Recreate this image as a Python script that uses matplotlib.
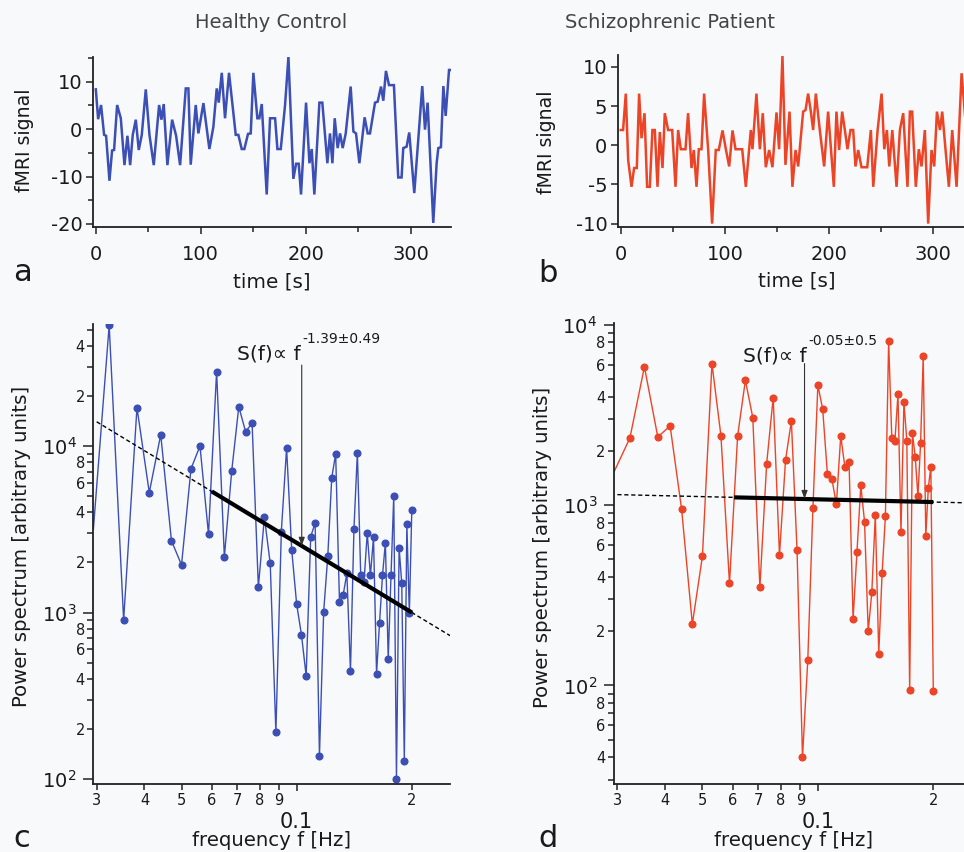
import matplotlib
matplotlib.use('Agg')
import matplotlib.pyplot as plt
import numpy as np
from matplotlib.ticker import FixedLocator, FixedFormatter, FuncFormatter

plt.rcParams['font.family'] = ['DejaVu Sans']
plt.rcParams['axes.unicode_minus'] = False

# ---------------- data ----------------
title_left = "Healthy Control"
title_right = "Schizophrenic Patient"

# healthy control time series (vertices), time [s] and fMRI signal
t_healthy = [0, 2.2, 5.0, 7.9, 9.8, 13, 15.5, 17.4, 20.3, 23.8, 27.3, 30.1, 32.7, 35.2, 38.1, 40.9,
             43.8, 47.6, 51.1, 55.2, 60.3, 62.5, 64.7, 68.2, 72.7, 76.5, 80.3, 85.7, 88.2, 90.4, 95.2,
             97.7, 102.5, 108.2, 112, 115.2, 117.1, 120, 123.1, 126.9, 133.3, 135.8, 139, 141.5, 145,
             147.6, 150.1, 153.9, 155.8, 158.1, 162.8, 166, 170.8, 173, 176.2, 180.3, 183.5, 188.2,
             190.8, 193.3, 195.5, 200.3, 203.5, 205.7, 208.2, 213, 215.8, 220.6, 223.1, 225.4, 227.6,
             230.4, 232.7, 235.2, 238.1, 242.8, 245.4, 247.9, 251.1, 256.1, 259, 261.2, 266, 268.5,
             271.7, 273.9, 276.4, 279.3, 284, 288.1, 291.3, 292.9, 296.1, 298.6, 303.4, 311, 313.6,
             316.1, 321.5, 324.7, 326.3, 328.8, 331.1, 333.3, 336.5, 338]
v_healthy = [8.4, 2.1, 5.1, -1.2, -1.4, -10.9, -4.5, -4.4, 5.1, 2.3, -7.6, -1.4, -7.6, -1.2, 2.0, -4.4,
             -1.2, 8.4, -1.2, -7.6, 5.1, 2.0, 5.3, -7.6, 2.0, -1.4, -7.6, 8.6, 8.6, -7.5, 5.1,
             -0.9, 5.5, -4.2, 0.5, 8.6, 5.6, 11.9, 2.3, 11.9, -1.2, -1.2, -4.2, -4.2, -1.0,
             -0.9, 11.9, 2.3, 2.3, 5.3, -13.8, 2.3, 2.3, -4.2, -4.2, 5.1, 15.3, -10.5,
             -7.3, -7.3, -13.8, 5.6, -7.2, -4.2, -13.8, 5.6, 5.6, -7.2, -0.9, -7.2, 2.3,
             -4.0, -0.9, -4.0, -0.9, 9.0, -0.5, -0.9, -7.2, 2.5, -0.9, -0.9, 5.6, 5.8,
             9.0, 6.0, 12.3, 9.3, 9.3, -10.2, -10.2, -4.0, -3.7, -0.7, -13.5, 9.1, -0.1,
             5.6, -19.8, -7.2, -4.0, -3.8, 9.1, 2.8, 12.5, 12.5]

# schizophrenic patient time series (vertices)
t_patient = [0, 2.2, 4.8, 7.1, 10.3, 12.8, 15.4, 17.6, 19.9, 22.8, 25.3, 27.9, 30.4, 32.7, 35.3, 37.5,
             40.1, 42.3, 45.5, 49.4, 52.6, 55.1, 57.7, 62.2, 64.7, 68, 70.2, 72.8, 75, 77.6, 80.1,
             84, 87.8, 91.3, 94.2, 97.8, 101, 104.2, 107.4, 110.3, 116.7, 120.2, 125, 126.6, 130.4,
             133.7, 136.5, 139.4, 142.6, 145.8, 149.7, 152.2, 155.4, 158.3, 162.2, 165, 168, 170.5,
             175.3, 177.6, 180.1, 182.7, 184.9, 187.5, 191.3, 195.5, 199.3, 204.8, 207.3, 209.9,
             212.8, 215.4, 217.9, 220.8, 223.4, 225.6, 228.2, 231.4, 236.9, 240.4, 242.7, 246.9,
             250.7, 253.3, 255.8, 258.1, 261, 265.1, 268.3, 271.5, 275.6, 277.9, 280.1, 283.6,
             286.5, 289.1, 292.3, 295.5, 298.7, 301.3, 303.9, 306.8, 309, 312.2, 315.4, 318.6,
             322.8, 327.6, 332]
v_patient = [1.95, 1.95, 6.6, -1.9, -5.3, -2.9, -2.9, 6.6, 0.9, 4.1, -5.3, -5.3, 1.95, 1.95, -5.3, 1.7,
             -2.9, 4.1, 1.95, 1.95, -5.3, 1.95, -0.5, -0.5, 4.1, -2.9, -0.6, -5.3, -0.5, -0.5, 6.6,
             -0.6, -10.0, -0.6, -0.6, 1.9, -0.5, -2.7, 1.9, -0.5, -0.5, -5.3, 1.95, -0.5, 6.6,
             -0.5, 4.1, -2.8, -0.6, -2.8, 4.2, -0.5, 11.4, -2.5, 4.3, -5.3, -0.6, -2.7,
             4.3, 4.5, 6.6, 4.3, 1.95, 6.6, 1.95, -2.7, 4.3, -5.3, 4.3, -0.6,
             4.3, 1.95, -0.5, 1.95, 1.95, -2.7, -0.6, -2.8, -2.8, 1.95, -5.3, 1.95,
             6.6, -0.5, 1.95, -2.7, 1.95, -5.3, 1.95, 4.1, -5.3, 4.3, 4.3, -5.3,
             -0.5, -2.7, 1.95, -10.0, -0.6, -2.7, 4.3, 1.95, 4.3, -0.6, -5.3, 1.95,
             -5.3, 9.2, 2.0]

# power spectra, frequency bins [Hz]
freq = [0.02941, 0.03235, 0.03529, 0.03824, 0.04118, 0.04412, 0.04706, 0.05, 0.05294, 0.05588,
        0.05882, 0.06176, 0.06471, 0.06765, 0.07059, 0.07353, 0.07647, 0.07941, 0.08235, 0.08529,
        0.08824, 0.09118, 0.09412, 0.09706, 0.1, 0.10294, 0.10588, 0.10882, 0.11176, 0.11471,
        0.11765, 0.12059, 0.12353, 0.12647, 0.12941, 0.13235, 0.13529, 0.13824, 0.14118, 0.14412,
        0.14706, 0.15, 0.15294, 0.15588, 0.15882, 0.16176, 0.16471, 0.16765, 0.17059, 0.17353,
        0.17647, 0.17941, 0.18235, 0.18529, 0.18824, 0.19118, 0.19412, 0.19706, 0.2]
power_healthy = [3150, 53000, 900, 17000, 5250, 11700, 2700, 1930, 7300, 10000,
                 2950, 28000, 2150, 7100, 17200, 12200, 13700, 1420, 3730, 1970,
                 191, 3060, 9700, 2380, 1120, 735, 417, 2860, 3440, 138,
                 1010, 2170, 6460, 8960, 1150, 1280, 1720, 443, 3180, 9100,
                 1670, 1530, 3000, 1670, 2830, 429, 871, 1670, 2630, 527,
                 1670, 5030, 100, 2450, 1500, 129, 3400, 990, 4130]
power_patient = [1530, 2360, 5850, 2390, 2750, 950, 219, 521, 6100, 2420,
                 368, 2420, 4930, 3060, 350, 1700, 3950, 528, 1780, 2930,
                 563, 40, 138, 960, 4630, 3400, 1490, 1390, 1010, 2420,
                 1620, 1740, 233, 551, 1290, 808, 200, 328, 880, 150,
                 418, 869, 8150, 2350, 2280, 4130, 711, 3720, 2280, 94,
                 2500, 1850, 1120, 2210, 6700, 676, 1250, 1630, 93]

# power-law fits S(f) = A f^beta
fit_healthy = dict(amp=106.8, beta=-1.39, err=0.49, solid=(0.06, 0.2), dashed=(0.03, 0.252),
                   arrow_f=0.1031, arrow_top=30600)
fit_patient = dict(amp=960.0, beta=-0.05, err=0.5, solid=(0.0605, 0.2), dashed=(0.03, 0.26),
                   arrow_f=0.0923, arrow_top=6100)

# ---------------- figure ----------------
W, H = 964, 852
fig = plt.figure(figsize=(W / 100, H / 100), dpi=100)
bg = '#f8f9fb'
fig.patch.set_facecolor(bg)
blue = '#3c4fb4'
red = '#ec4427'
ink = '#1a1a1a'


def add_ax(l, r, t, b):
    ax = fig.add_axes([l / W, 1 - b / H, (r - l) / W, (b - t) / H])
    ax.set_facecolor(bg)
    for s in ('top', 'right'):
        ax.spines[s].set_visible(False)
    for s in ('left', 'bottom'):
        ax.spines[s].set_linewidth(1.3)
        ax.spines[s].set_color('#222222')
    ax.tick_params(which='both', direction='out', colors='#222222', labelcolor=ink, width=1.1)
    return ax


def ftext(x, y, s, **kw):
    return fig.text(x / W, 1 - y / H, s, **kw)


# --- time series panels ---
def time_panel(ax, t, v, color, ylim, yticks, yminor):
    ax.plot(t, v, color=color, lw=1.8, solid_joinstyle='miter')
    ax.set_xlim(-2.3, 338.1)
    ax.set_ylim(*ylim)
    ax.xaxis.set_major_locator(FixedLocator([0, 100, 200, 300]))
    ax.xaxis.set_minor_locator(FixedLocator([50, 150, 250]))
    ax.yaxis.set_major_locator(FixedLocator(yticks))
    ax.yaxis.set_minor_locator(FixedLocator(yminor))
    ax.tick_params(which='major', length=5, labelsize=14, pad=3)
    ax.tick_params(axis='x', which='major', pad=8)
    ax.tick_params(which='minor', length=3.5)


axa = add_ax(93.4, 450.7, 56.7, 226.7)
time_panel(axa, t_healthy, v_healthy, blue, (-20.6, 15.3), [-20, -10, 0, 10], [-15, -5, 5, 15])
axb = add_ax(618.4, 972.5, 55, 227.3)
time_panel(axb, t_patient, v_patient, red, (-10.47, 11.53), [-10, -5, 0, 5, 10], [])

ftext(25, 140, 'fMRI signal', rotation=90, ha='center', va='center', fontsize=13.6, color=ink)
ftext(547, 142, 'fMRI signal', rotation=90, ha='center', va='center', fontsize=13.6, color=ink)
ftext(272, 282, 'time [s]', ha='center', va='center', fontsize=14.4, color=ink)
ftext(797, 281, 'time [s]', ha='center', va='center', fontsize=14.4, color=ink)


# --- spectrum panels ---
def minor_fmt(v, pos):
    e = np.floor(np.log10(v) + 1e-9)
    d = int(round(v / 10 ** e))
    return str(d) if d in (2, 4, 6, 8) else ''


def spec_panel(ax, f, p, color, ylim, fit):
    ax.set_xscale('log')
    ax.set_yscale('log')
    ax.plot(f, p, color=color, lw=1.0, marker='o', ms=4.8, mec=color, mfc=color,
            markevery=list(range(1, len(f))))
    fd = np.array(fit['dashed'])
    fs = np.array(fit['solid'])
    ax.plot(fd, fit['amp'] * fd ** fit['beta'], color='black', lw=1.0, ls=(0, (3, 2)))
    ax.plot(fs, fit['amp'] * fs ** fit['beta'], color='black', lw=3.0, solid_capstyle='butt')
    fa = fit['arrow_f']
    ax.annotate('', xy=(fa, fit['amp'] * fa ** fit['beta']), xytext=(fa, fit['arrow_top']),
                arrowprops=dict(arrowstyle='-|>,head_length=0.5,head_width=0.18', color='#333333',
                                lw=0.8, shrinkA=0, shrinkB=0))
    ax.set_xlim(0.0294, 0.252)
    ax.set_ylim(*ylim)
    ax.xaxis.set_major_locator(FixedLocator([0.1]))
    ax.xaxis.set_major_formatter(FixedFormatter(['0.1']))
    xm = [0.03, 0.04, 0.05, 0.06, 0.07, 0.08, 0.09, 0.2]
    ax.xaxis.set_minor_locator(FixedLocator(xm))
    ax.xaxis.set_minor_formatter(FixedFormatter(['3', '4', '5', '6', '7', '8', '9', '2']))
    ax.yaxis.set_major_locator(FixedLocator([1e1, 1e2, 1e3, 1e4]))
    ax.yaxis.set_major_formatter(FixedFormatter(['$10^1$', '$10^2$', '$10^3$', '$10^4$']))
    ym = [m * 10 ** e for e in (1, 2, 3, 4) for m in range(2, 10)]
    ax.yaxis.set_minor_locator(FixedLocator(ym))
    ax.yaxis.set_minor_formatter(FuncFormatter(minor_fmt))
    ax.tick_params(axis='x', which='major', length=5, labelsize=15, pad=15)
    ax.tick_params(axis='x', which='minor', length=4, labelsize=10.5, pad=2)
    ax.tick_params(axis='y', which='major', length=7, labelsize=14, pad=5)
    ax.tick_params(axis='y', which='minor', length=4, labelsize=10.5, pad=2)


axc = add_ax(93.3, 450.2, 324, 784.3)
spec_panel(axc, freq, power_healthy, blue, (93, 5.4e4), fit_healthy)
axd = add_ax(614, 971.8, 323.3, 784.3)
spec_panel(axd, freq, power_patient, red, (28.3, 1.02e4), fit_patient)

ftext(22, 546, 'Power spectrum [arbitrary units]', rotation=90, ha='center', va='center',
      fontsize=14.2, color=ink)
ftext(543, 547, 'Power spectrum [arbitrary units]', rotation=90, ha='center', va='center',
      fontsize=14.2, color=ink)
ftext(272, 841, 'frequency f [Hz]', ha='center', va='center', fontsize=14.2, color=ink)
ftext(794, 840, 'frequency f [Hz]', ha='center', va='center', fontsize=14.2, color=ink)

# fit annotations
for (xr, yb, fit) in ((301, 360, fit_healthy), (807, 362, fit_patient)):
    ftext(xr, yb, 'S(f)\u221d f', ha='right', va='baseline', fontsize=14.5, color=ink)
    ftext(xr + 1, yb - 17, '-%s\u00b1%s' % (abs(fit['beta']), fit['err']), ha='left', va='baseline',
          fontsize=10, color=ink)

# titles and panel letters
ftext(271, 23, title_left, ha='center', va='center', fontsize=14, color='#444444')
ftext(670, 23, title_right, ha='center', va='center', fontsize=14, color='#444444')
for x, y, s in ((13, 281, 'a'), (538, 282, 'b'), (13, 847, 'c'), (538, 847, 'd')):
    ftext(x, y, s, ha='left', va='baseline', fontsize=22, color=ink)

fig.savefig('out.png', dpi=100, facecolor=bg)
